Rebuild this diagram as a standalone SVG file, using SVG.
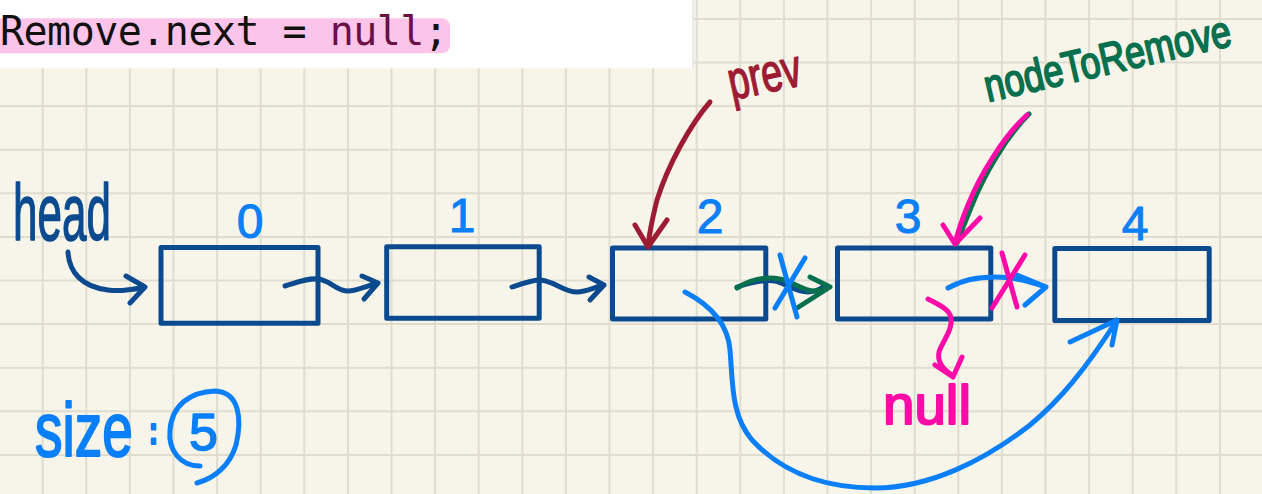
<svg xmlns="http://www.w3.org/2000/svg" width="1262" height="494" viewBox="0 0 1262 494">
<style>
.bg{fill:#f7f5ea}
.grid{fill:none;stroke:#e0ddcf;stroke-width:2}
.node rect{fill:none;stroke:#0b4a8f;stroke-width:5;stroke-linejoin:round}
.ink{fill:none;stroke-linecap:round;stroke-linejoin:round;stroke-width:5}
.dblue{stroke:#0b4a8f}
.blue{stroke:#0a7ff7}
.red{stroke:#9e1b34}
.green{stroke:#08704e}
.pink{stroke:#ff0aa8}
.hand{font-family:"Liberation Sans",Arial,sans-serif;stroke-width:1.5;stroke-linejoin:round}
.lbl{font-family:"Liberation Sans",Arial,sans-serif;font-size:48px;fill:#0a7ff7;stroke:#0a7ff7;stroke-width:1;text-anchor:middle}
.code{font-family:"DejaVu Sans Mono","Liberation Mono",monospace;font-size:40px;fill:#111}
</style>
<rect class="bg" x="0" y="0" width="1262" height="494"/>
<path class="grid" d="M42.7,0V494M86.3,0V494M129.9,0V494M173.5,0V494M217.1,0V494M260.7,0V494M304.3,0V494M347.9,0V494M391.5,0V494M435.1,0V494M478.7,0V494M522.3,0V494M565.9,0V494M609.5,0V494M653.1,0V494M696.7,0V494M740.3,0V494M783.9,0V494M827.5,0V494M871.1,0V494M914.7,0V494M958.3,0V494M1001.9,0V494M1045.5,0V494M1089.1,0V494M1132.7,0V494M1176.3,0V494M1219.9,0V494M0,18.9H1262M0,62.5H1262M0,106.1H1262M0,149.7H1262M0,193.3H1262M0,236.9H1262M0,280.5H1262M0,324.1H1262M0,367.7H1262M0,411.3H1262M0,454.9H1262"/>

<g id="code">
<rect x="0" y="0" width="694" height="68.3" fill="#ffffff"/>
<line x1="693" y1="0" x2="693" y2="68" stroke="#e4e4e4" stroke-width="1.5"/>
<rect x="-10" y="18.3" width="460" height="35" rx="8" fill="#fcc4e9"/>
<text class="code" x="0" y="45" textLength="448" lengthAdjust="spacing">Remove.next = <tspan fill="#6a0f45">null</tspan>;</text>
</g>

<g id="node0" class="node"><rect x="161" y="247.5" width="157" height="75.7"/><text class="lbl" x="250" y="238">0</text></g>
<g id="node1" class="node"><rect x="386.7" y="246.8" width="152.5" height="71.5"/><text class="lbl" x="462" y="232">1</text></g>
<g id="node2" class="node"><rect x="612.5" y="248" width="153.3" height="71"/><text class="lbl" x="710" y="233">2</text></g>
<g id="node3" class="node"><rect x="837.5" y="248" width="153.3" height="71"/><text class="lbl" x="908" y="233">3</text></g>
<g id="node4" class="node"><rect x="1054.8" y="248.5" width="154.4" height="72"/><text class="lbl" x="1135" y="240">4</text></g>

<g id="head"><text class="hand" transform="translate(13,240) scale(0.55,1)" x="0" y="0" font-size="80" fill="#0b4a8f" stroke="#0b4a8f">head</text></g>
<g id="prev"><text class="hand" transform="translate(732,100) rotate(-12) scale(0.7,1)" x="0" y="0" font-size="54" fill="#9e1b34" stroke="#9e1b34">prev</text></g>
<g id="nodeToRemove"><text class="hand" transform="translate(988,102) rotate(-13) scale(1,1.25)" x="0" y="0" font-size="36" fill="#08704e" stroke="#08704e">nodeToRemove</text></g>
<g id="null"><text class="hand" transform="translate(883,424) scale(1,1.4)" x="0" y="0" font-size="40" textLength="88" lengthAdjust="spacingAndGlyphs" fill="#ff0aa8" stroke="#ff0aa8">null</text></g>
<g id="size">
<text class="hand" transform="translate(35,456) scale(1,1.38)" x="0" y="0" font-size="55" fill="#0a7ff7" stroke="#0a7ff7">size<tspan dx="16" dy="-9" font-size="28" font-weight="bold">:</tspan></text>
<text class="hand" x="189" y="450" font-size="52" fill="#0a7ff7" stroke="#0a7ff7">5</text>
<path class="ink blue" d="M200,466 C180,466 168,450 170,430 C172,405 190,392 215,391 C240,392 242,420 236,445 C230,465 215,478 197,483"/>
</g>

<g id="connectors">
<path class="ink dblue" d="M68,252 C69,272 82,287 108,290 C122,292 135,289 145,287 M126,276 L145,287 L130,303"/>
<path class="ink dblue" d="M285,286 C298,282 308,278 318,279 C330,280 336,291 348,291 C357,291 366,286 378,283 M362,276 L378,283 L364,299"/>
<path class="ink dblue" d="M512,287 C524,283 532,280 540,280 C555,281 563,292 577,292 C586,292 595,287 604,285 M589,277 L604,285 L590,300"/>
<path class="ink dblue" d="M737,287 C752,282 764,279 775,281 C785,283 795,292 808,292 C815,292 820,289 823,287"/>
<path class="ink green" d="M737,288 C750,280 765,276 780,279 C792,281 805,292 815,291 C822,290 826,288 830,287 M810,277 L830,287 L797,308"/>
<path class="ink blue" d="M780,255 L797,317 M805,258 L775,308"/>
<path class="ink blue" d="M948,288 C960,281 975,277 995,277 C1015,277 1030,282 1046,287 M1017,275 L1046,287 L1025,305"/>
<path class="ink pink" d="M1002,253 L1017,307 M1025,255 L992,308"/>
<path class="ink pink" d="M928,299 C940,305 950,310 951,318 C953,330 942,342 939,352 C937,362 944,370 952,375 M935,365 L953,377 L962,357"/>
<path class="ink red" d="M710,102 C690,125 668,165 657,200 C652,220 649,235 648,247 M635,225 L648,247 L667,220"/>
<path class="ink green" d="M1029,114 C1006,137 984,175 972,205 C965,222 960,235 957,243"/>
<path class="ink pink" d="M1027,115 C1003,137 980,175 968,205 C961,222 957,235 955,244 M943,225 L955,244 L980,218"/>
<path class="ink blue" d="M685,292 C712,306 728,325 730,350 C733,385 731,415 752,440 C780,470 820,488 875,488 C930,488 985,460 1030,425 C1060,400 1085,370 1117,320 M1070,342 L1117,320 L1112,345"/>
</g>
</svg>
